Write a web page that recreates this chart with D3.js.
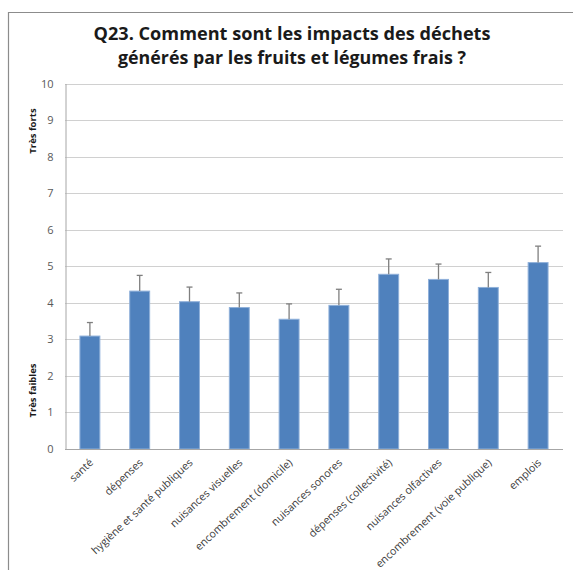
<!DOCTYPE html>
<html>
<head>
<meta charset="utf-8">
<script src="https://cdn.jsdelivr.net/npm/d3@7"></script>
<style>
  html, body { margin: 0; padding: 0; background: #fff; }
  svg { display: block; font-family: "Open Sans", "Noto Sans", sans-serif; }
</style>
</head>
<body>
<svg id="chart" width="573" height="570"></svg>
<script>
// Impact categories and their mean scores (0 = très faibles, 10 = très forts)
const categories = [
  "santé", "dépenses", "hygiène et santé publiques", "nuisances visuelles",
  "encombrement (domicile)", "nuisances sonores", "dépenses (collectivité)",
  "nuisances olfactives", "encombrement (voie publique)", "emplois"
];
const means = [3.09, 4.32, 4.03, 3.87, 3.55, 3.93, 4.78, 4.64, 4.42, 5.10];
// Upper error-bar extent above each mean
const errors = [0.37, 0.43, 0.40, 0.40, 0.42, 0.44, 0.42, 0.42, 0.41, 0.45];
const yTicks = [0, 1, 2, 3, 4, 5, 6, 7, 8, 9, 10];
const titleLines = [
  "Q23. Comment sont les impacts des déchets",
  "générés par les fruits et légumes frais ?"
];
const axisNotes = [{ text: "Très forts", value: 8.7 }, { text: "Très faibles", value: 1.6 }];

const svg = d3.select("#chart");
const margin = { left: 65, right: 10, top: 83, bottom: 121 };
const W = 573, H = 570;

// Outer frame (top and left edges)
svg.append("path")
  .attr("d", `M8.5,${H} V12.5 H${W}`)
  .attr("fill", "none").attr("stroke", "#8c8c8c").attr("stroke-width", 1.2);

const x = d3.scaleBand().domain(categories)
  .range([margin.left, 563]).paddingInner(0.6).paddingOuter(0.3);
const y = d3.scaleLinear().domain([0, 10]).range([449, 83.5]);

// Title
svg.append("g").selectAll("text").data(titleLines).join("text")
  .attr("x", 292).attr("y", (d, i) => 40 + i * 24)
  .attr("text-anchor", "middle")
  .attr("font-size", 17.5).attr("font-weight", "bold").attr("fill", "#1a1a1a")
  .attr("textLength", (d, i) => i === 0 ? 397 : 348)
  .attr("lengthAdjust", "spacingAndGlyphs")
  .text(d => d);

// Horizontal gridlines
svg.append("g").selectAll("line").data(yTicks.filter(t => t > 0)).join("line")
  .attr("x1", margin.left).attr("x2", 563)
  .attr("y1", d => Math.round(y(d)) + 0.5).attr("y2", d => Math.round(y(d)) + 0.5)
  .attr("stroke", "#d0d0d0").attr("stroke-width", 1);

// Y axis
const yAxis = svg.append("g").attr("transform", `translate(${margin.left + 0.5},0)`)
  .call(d3.axisLeft(y).tickValues(yTicks).tickSize(0).tickPadding(12));
yAxis.select(".domain").attr("stroke", "#a6a6a6");
yAxis.selectAll("text").attr("font-size", 11).attr("fill", "#595959")
  .attr("font-family", "'Open Sans', sans-serif");

// Rotated side notes
svg.append("g").selectAll("text").data(axisNotes).join("text")
  .attr("transform", d => `translate(36,${y(d.value)}) rotate(-90)`)
  .attr("text-anchor", "middle")
  .attr("font-size", 9.5).attr("font-weight", "bold").attr("fill", "#1a1a1a")
  .text(d => d.text);

// Bars
svg.append("g").selectAll("rect").data(categories).join("rect")
  .attr("x", d => x(d)).attr("width", x.bandwidth())
  .attr("y", (d, i) => y(means[i])).attr("height", (d, i) => y(0) - y(means[i]))
  .attr("fill", "#4f81bd").attr("stroke", "#8fb0da").attr("stroke-width", 1);

// Error bars (upper side only)
const err = svg.append("g").attr("stroke", "#7f7f7f").attr("stroke-width", 1.3);
categories.forEach((c, i) => {
  const cx = x(c) + x.bandwidth() / 2;
  err.append("line").attr("x1", cx).attr("x2", cx)
    .attr("y1", y(means[i])).attr("y2", y(means[i] + errors[i]));
  err.append("line").attr("x1", cx - 3).attr("x2", cx + 3)
    .attr("y1", y(means[i] + errors[i])).attr("y2", y(means[i] + errors[i]));
});

// X axis
const xAxis = svg.append("g").attr("transform", `translate(0,${y(0) + 0.5})`)
  .call(d3.axisBottom(x).tickSize(0).tickSizeOuter(0).tickPadding(0));
xAxis.select(".domain").attr("stroke", "#a6a6a6").attr("d", `M${margin.left},0H563`);
xAxis.selectAll("text")
  .attr("font-size", 10.7).attr("fill", "#404040")
  .attr("font-family", "'Open Sans', sans-serif")
  .attr("text-anchor", "end")
  .attr("dy", 0)
  .attr("transform", "translate(4,14) rotate(-43)");
</script>
</body>
</html>
